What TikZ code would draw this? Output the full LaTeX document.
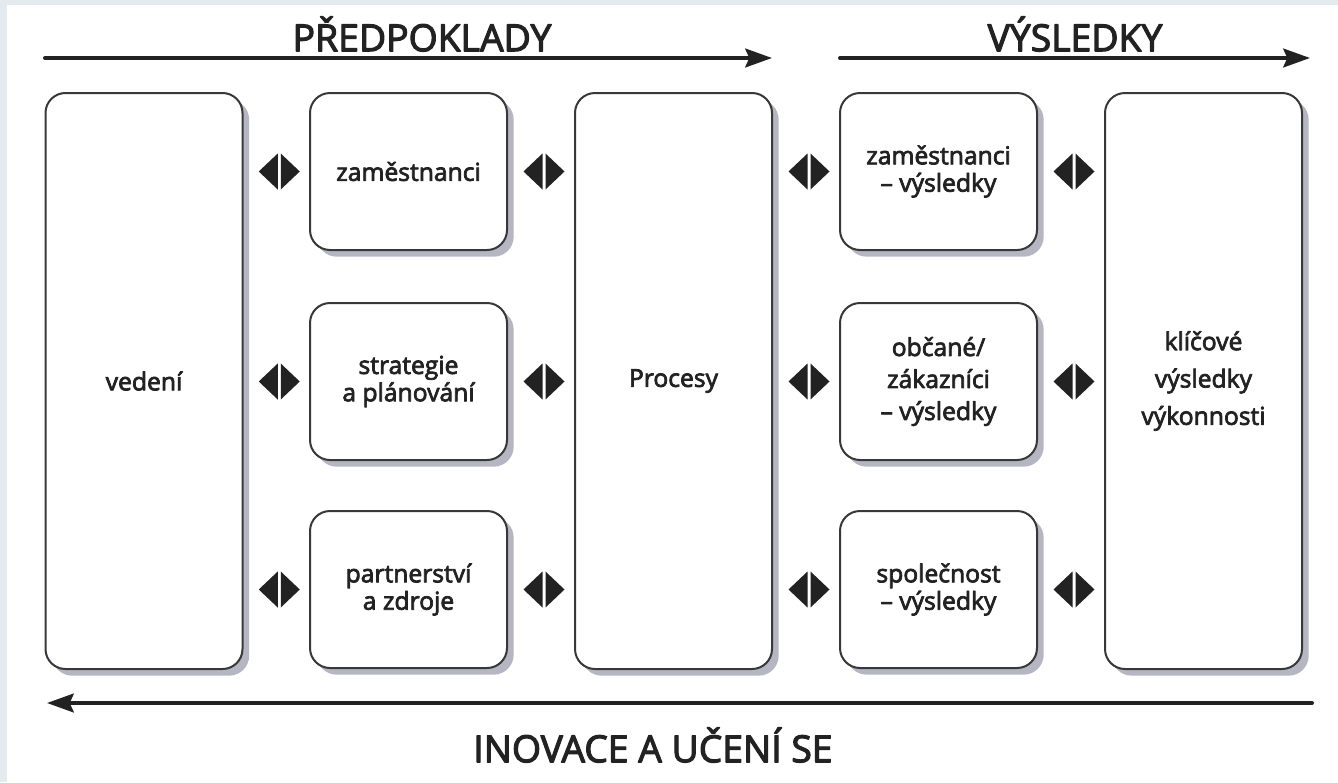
\documentclass[tikz,border=0pt]{standalone}
\usepackage{fontspec}
\setmainfont{Open Sans}[FakeBold=3]
\usetikzlibrary{shadows,calc,arrows.meta}
\definecolor{rim}{HTML}{E4EBEE}
\definecolor{ink}{HTML}{222222}
\definecolor{shade}{HTML}{B6B6C2}
\tikzset{
  box/.style={draw=ink!90, line width=1.5pt, fill=white, rounded corners=15pt,
    minimum width=147.75pt, minimum height=117.75pt, align=center, text=ink,
    font=\fontsize{18.5}{20.5}\selectfont,
    drop shadow={shadow xshift=5pt, shadow yshift=-5pt, fill=shade, opacity=1}},
  tall/.style={box, minimum height=432pt},
  flow/.style={line width=3pt, draw=ink, -{Stealth[length=20pt,width=14pt,inset=3pt]}},
  head/.style={text=ink, font=\fontsize{28}{32}\selectfont}
}
\begin{document}
\begin{tikzpicture}[x=0.75pt, y=-0.75pt, line join=round, line cap=round]
\useasboundingbox (0,0) rectangle (1338,782);
\fill[rim] (0,0) rectangle (1338,782);
\fill[white] (7,5) rectangle (1338,782);
\node[tall] (vedeni) at (144,381) {vedení};
\node[box] (zam) at (408.5,171.5) {zaměstnanci};
\node[box] (strat) at (408.5,381.5) {strategie\\a plánování};
\node[box] (partn) at (408.5,589.5) {partnerství\\a zdroje};
\node[tall] (procesy) at (673.5,381) {Procesy};
\node[box] (zamv) at (938.5,171.5) {zaměstnanci\\– výsledky};
\node[box, font=\fontsize{18.5}{24}\selectfont] (obcv) at (938.5,381.5) {občané/\\zákazníci\\– výsledky};
\node[box] (spolv) at (938.5,589.5) {společnost\\– výsledky};
\node[tall, font=\fontsize{18.5}{28}\selectfont] (klic) at (1203.5,381) {klíčové\\výsledky\\výkonnosti};
\foreach \a/\b/\r in {vedeni/zam/zam, vedeni/strat/strat, vedeni/partn/partn,
  zam/procesy/zam, strat/procesy/strat, partn/procesy/partn,
  procesy/zamv/zamv, procesy/obcv/obcv, procesy/spolv/spolv,
  zamv/klic/zamv, obcv/klic/obcv, spolv/klic/spolv}{
  \coordinate (m) at ($(\a.east)!0.5!(\b.west)$);
  \coordinate (p) at ($(m |- \r.center)+(3,0)$);
  \fill[ink] ($(p)+(-1.5,-18)$) -- ++(-19,18) -- ++(19,18) -- cycle;
  \fill[ink] ($(p)+(1.5,-18)$) -- ++(19,18) -- ++(-19,18) -- cycle;
}
\coordinate (pa) at (45,58);
\coordinate (pb) at (772,58);
\coordinate (va) at (840,58);
\coordinate (vb) at (1310,58);
\coordinate (ia) at (1312,703);
\coordinate (ib) at (47,703);
\draw[flow] (pa) -- (pb);
\draw[flow] (va) -- (vb);
\draw[flow] (ia) -- (ib);
\node[head] (pred) at (422,34) {PŘEDPOKLADY};
\node[head] (vysl) at (1075,34) {VÝSLEDKY};
\node[head] (inov) at (653,745) {INOVACE A UČENÍ SE};
\end{tikzpicture}
\end{document}
